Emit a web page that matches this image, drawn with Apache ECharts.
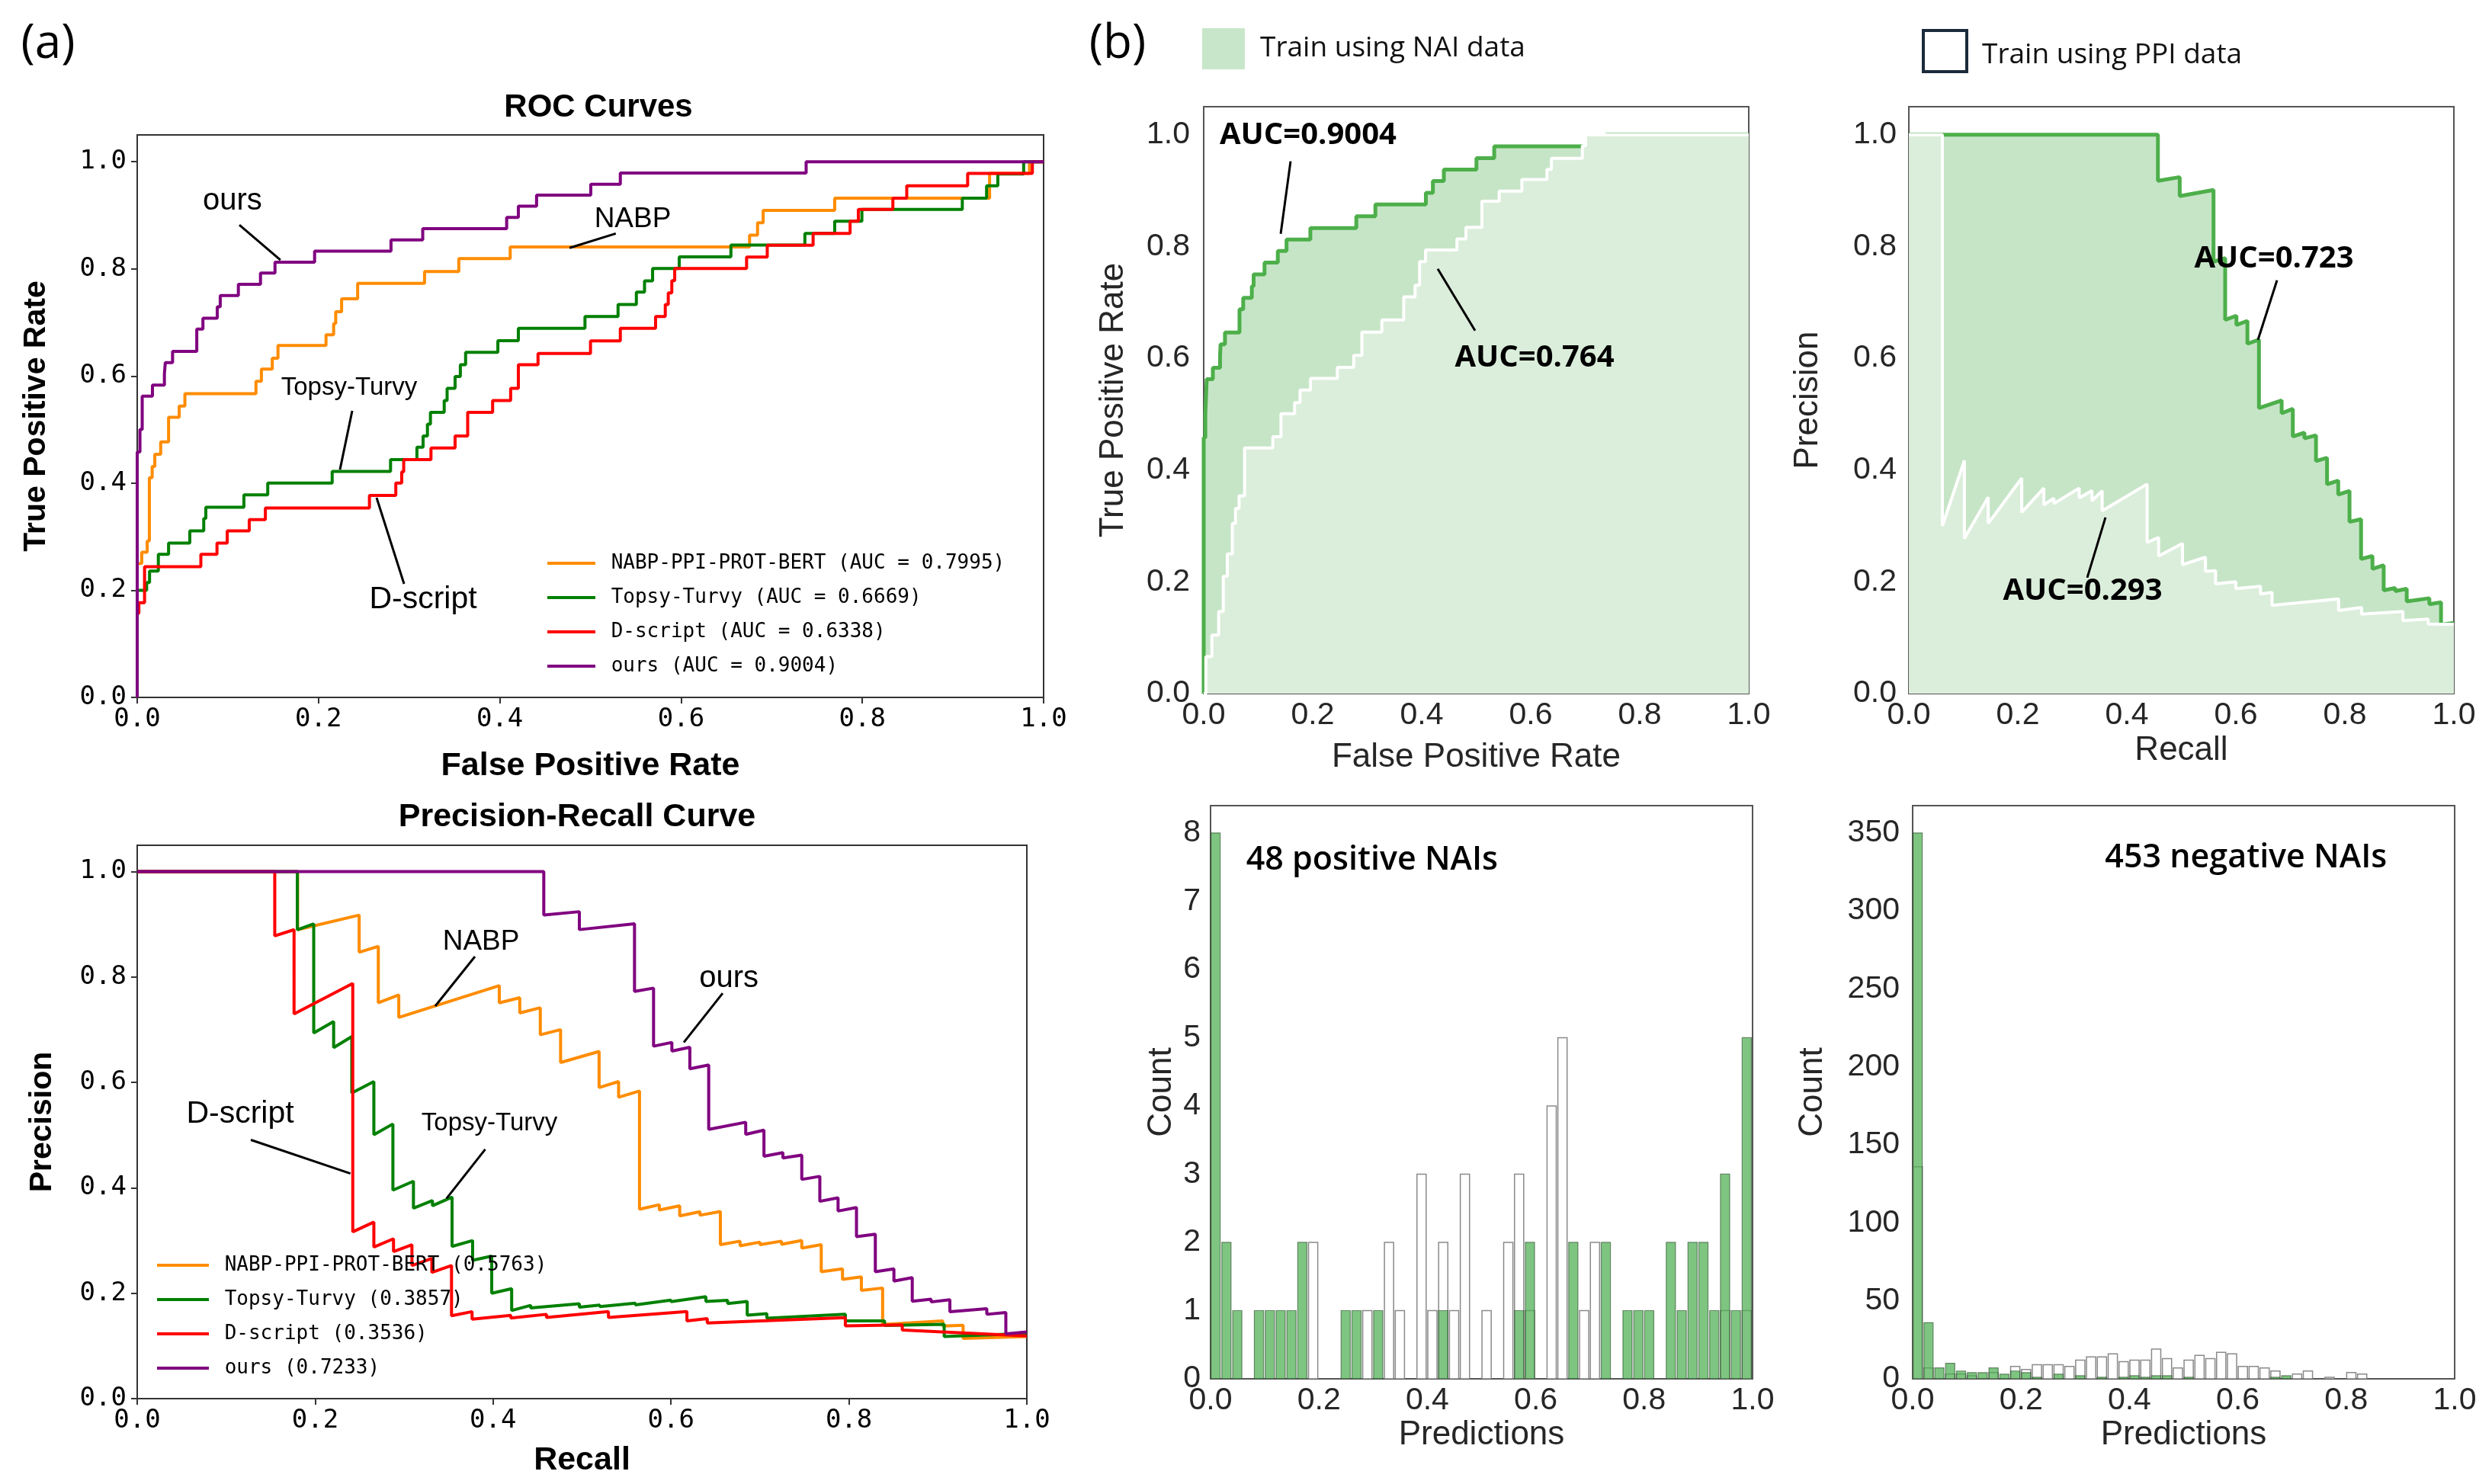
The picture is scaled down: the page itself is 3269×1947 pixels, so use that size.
<!DOCTYPE html>
<html><head><meta charset="utf-8">
<script src="https://cdn.jsdelivr.net/npm/echarts@6/dist/echarts.min.js"></script>
<style>html,body{margin:0;padding:0;background:#fff}#c{width:3269px;height:1947px}</style>
</head><body><div id="c"></div>
<script>
// ---------- DATA ----------
const rocNames = ['NABP-PPI-PROT-BERT (AUC = 0.7995)','Topsy-Turvy (AUC = 0.6669)','D-script (AUC = 0.6338)','ours (AUC = 0.9004)'];
const prNames = ['NABP-PPI-PROT-BERT (0.5763)','Topsy-Turvy (0.3857)','D-script (0.3536)','ours (0.7233)'];
const tickLabels01 = [0,0.2,0.4,0.6,0.8,1.0];
const tickLabelsPos = [0,1,2,3,4,5,6,7,8];
const tickLabelsNeg = [0,50,100,150,200,250,300,350];

// ROC curves: [FPR at jump, TPR after jump]
const rocNABP = [[0,0],[0,0.25],[0.005,0.271],[0.011,0.292],[0.0134,0.41],[0.0165,0.431],[0.0194,0.454],[0.0259,0.477],[0.0346,0.523],[0.0463,0.544],[0.0526,0.567],[0.131,0.59],[0.137,0.613],[0.149,0.633],[0.1553,0.657],[0.2083,0.677],[0.2167,0.698],[0.219,0.72],[0.2255,0.744],[0.2432,0.773],[0.317,0.795],[0.3548,0.819],[0.4115,0.841],[0.6756,0.863],[0.6844,0.886],[0.6906,0.909],[0.7695,0.932],[0.9404,0.978],[0.9844,1.0],[1,1]];
const rocTopsy = [[0,0],[0,0.2],[0.0104,0.2146],[0.0136,0.236],[0.0233,0.267],[0.0346,0.288],[0.058,0.311],[0.0734,0.334],[0.0757,0.355],[0.1177,0.378],[0.144,0.4],[0.2151,0.422],[0.2795,0.444],[0.3086,0.467],[0.3154,0.488],[0.3202,0.51],[0.3235,0.532],[0.3387,0.554],[0.3419,0.577],[0.3507,0.599],[0.3565,0.621],[0.3623,0.644],[0.3979,0.666],[0.4205,0.689],[0.494,0.711],[0.5305,0.7335],[0.5507,0.7565],[0.5597,0.7776],[0.5686,0.8006],[0.598,0.8222],[0.655,0.8444],[0.7366,0.866],[0.7695,0.889],[0.7995,0.911],[0.9103,0.932],[0.9371,0.955],[0.9495,0.977],[0.978,1.0],[1,1]];
const rocDscript = [[0,0],[0,0.157],[0.0018,0.1767],[0.0081,0.244],[0.0702,0.267],[0.088,0.288],[0.0993,0.311],[0.1236,0.332],[0.1414,0.3535],[0.2562,0.377],[0.2853,0.4],[0.2918,0.421],[0.294,0.444],[0.3241,0.4655],[0.3507,0.488],[0.3646,0.532],[0.3921,0.554],[0.412,0.577],[0.4205,0.621],[0.4422,0.642],[0.5001,0.6655],[0.533,0.689],[0.5719,0.711],[0.5826,0.7335],[0.5859,0.755],[0.5898,0.778],[0.593,0.8006],[0.6723,0.822],[0.6951,0.844],[0.7457,0.866],[0.7865,0.889],[0.7956,0.911],[0.8337,0.932],[0.849,0.955],[0.9162,0.978],[0.9876,1.0],[1,1]];
const rocOurs = [[0,0],[0,0.458],[0.003,0.5],[0.0055,0.5625],[0.0168,0.583],[0.030,0.604],[0.031,0.625],[0.039,0.646],[0.0657,0.6875],[0.0725,0.708],[0.0883,0.729],[0.0916,0.75],[0.1116,0.771],[0.136,0.792],[0.152,0.8125],[0.1957,0.833],[0.280,0.854],[0.315,0.875],[0.4076,0.896],[0.4205,0.917],[0.4406,0.9375],[0.5004,0.958],[0.533,0.979],[0.738,1.0],[1,1]];
const rocPPI = [[0,0],[0.004,0.066],[0.015,0.1045],[0.0275,0.147],[0.0359,0.21],[0.0434,0.25],[0.0525,0.3045],[0.0584,0.3315],[0.065,0.354],[0.075,0.4396],[0.1268,0.4595],[0.1418,0.5009],[0.1668,0.5207],[0.1768,0.543],[0.196,0.564],[0.2452,0.5838],[0.2752,0.605],[0.2902,0.6468],[0.3269,0.6685],[0.367,0.7099],[0.3878,0.7306],[0.3962,0.773],[0.407,0.7937],[0.4646,0.8135],[0.4812,0.8342],[0.5104,0.881],[0.5421,0.899],[0.5838,0.9198],[0.6297,0.9378],[0.638,0.9577],[0.6947,0.98],[0.7006,1.0],[1,1]];

// PR curves: [recall, precision]
const prNABP = [[0,1],[0.1803,1],[0.1803,0.8898],[0.2495,0.9175],[0.2495,0.847],[0.271,0.8583],[0.271,0.751],[0.294,0.766],[0.294,0.7233],[0.407,0.7838],[0.407,0.751],[0.430,0.7608],[0.430,0.7319],[0.4531,0.7417],[0.4531,0.6904],[0.4759,0.7002],[0.4759,0.6378],[0.5192,0.6588],[0.5192,0.5903],[0.5411,0.6016],[0.5411,0.5719],[0.5646,0.5838],[0.5646,0.3593],[0.5869,0.3679],[0.5869,0.358],[0.6098,0.366],[0.6098,0.3468],[0.6326,0.3547],[0.6326,0.348],[0.6555,0.355],[0.6555,0.2921],[0.6777,0.2988],[0.6777,0.29],[0.7,0.297],[0.7,0.2921],[0.7242,0.2988],[0.7242,0.293],[0.747,0.30],[0.747,0.2856],[0.7689,0.2921],[0.7689,0.2408],[0.7928,0.2461],[0.7928,0.2263],[0.814,0.2309],[0.814,0.2053],[0.8379,0.2099],[0.8379,0.1408],[0.9055,0.1474],[0.9055,0.1379],[0.9284,0.1392],[0.9284,0.1144],[1,0.1177]];
const prTopsy = [[0,1],[0.18,1],[0.18,0.8898],[0.1984,0.901],[0.1984,0.6937],[0.2208,0.7154],[0.2208,0.666],[0.2412,0.687],[0.2412,0.58],[0.266,0.6016],[0.266,0.5008],[0.2874,0.5212],[0.2874,0.3955],[0.3105,0.4126],[0.3105,0.3613],[0.3319,0.3757],[0.3319,0.366],[0.3539,0.3824],[0.3539,0.2889],[0.377,0.3],[0.377,0.2626],[0.3985,0.2705],[0.3985,0.2],[0.4209,0.2086],[0.4209,0.1672],[0.4423,0.177],[0.4423,0.172],[0.497,0.18],[0.497,0.1737],[0.52,0.1776],[0.52,0.1745],[0.56,0.181],[0.56,0.178],[0.6,0.187],[0.6,0.184],[0.6392,0.1935],[0.6392,0.1843],[0.6637,0.1866],[0.6637,0.1805],[0.6857,0.1843],[0.6857,0.1585],[0.7078,0.1612],[0.7078,0.1527],[0.796,0.16],[0.796,0.1474],[0.8401,0.1474],[0.8401,0.139],[0.9071,0.141],[0.9071,0.1178],[1,0.1236]];
const prDscript = [[0,1],[0.1546,1],[0.1546,0.878],[0.1763,0.8898],[0.1763,0.7299],[0.2423,0.7878],[0.2423,0.3165],[0.266,0.3349],[0.266,0.2876],[0.2881,0.3034],[0.2881,0.279],[0.3088,0.2921],[0.3088,0.2526],[0.3312,0.2658],[0.3312,0.2395],[0.3533,0.2526],[0.3533,0.1572],[0.3764,0.1651],[0.3764,0.1507],[0.42,0.158],[0.42,0.153],[0.46,0.16],[0.46,0.154],[0.5297,0.1651],[0.5297,0.154],[0.6179,0.1651],[0.6179,0.1474],[0.6408,0.1519],[0.6408,0.1436],[0.796,0.1538],[0.796,0.138],[0.86,0.14],[0.86,0.13],[1,0.119]];
const prOurs = [[0,1],[0.457,1],[0.457,0.9175],[0.497,0.924],[0.497,0.89],[0.559,0.901],[0.559,0.7727],[0.5804,0.779],[0.5804,0.6687],[0.601,0.676],[0.601,0.6594],[0.6212,0.6668],[0.6212,0.6259],[0.6424,0.6331],[0.6424,0.5108],[0.684,0.5245],[0.684,0.5015],[0.7045,0.5094],[0.7045,0.46],[0.7258,0.4667],[0.7258,0.4567],[0.747,0.462],[0.747,0.416],[0.7673,0.4218],[0.7673,0.3744],[0.7878,0.381],[0.7878,0.356],[0.8085,0.3626],[0.8085,0.3073],[0.8297,0.3119],[0.8297,0.2408],[0.8506,0.2461],[0.8506,0.223],[0.8712,0.2296],[0.8712,0.1848],[0.8924,0.1888],[0.8924,0.1835],[0.9135,0.1875],[0.9135,0.165],[0.955,0.1706],[0.955,0.16],[0.9764,0.1633],[0.9764,0.123],[1,0.1264]];
const prPPI = [[0,1],[0.0615,1],[0.0615,0.3],[0.1019,0.417],[0.1019,0.2775],[0.1457,0.3514],[0.1457,0.3045],[0.2072,0.3856],[0.2072,0.3243],[0.2477,0.3676],[0.2477,0.3378],[0.2662,0.3495],[0.2662,0.34],[0.3126,0.3676],[0.3126,0.35],[0.336,0.363],[0.336,0.345],[0.3547,0.363],[0.3547,0.327],[0.4372,0.3748],[0.4372,0.2703],[0.4583,0.2793],[0.4583,0.246],[0.5021,0.2685],[0.5021,0.2306],[0.5442,0.2441],[0.5442,0.2189],[0.5628,0.22],[0.5628,0.1964],[0.6,0.2],[0.6,0.188],[0.6453,0.1919],[0.6453,0.1784],[0.6664,0.1811],[0.6664,0.1577],[0.7885,0.1694],[0.7885,0.1486],[0.8307,0.154],[0.8307,0.1423],[0.9065,0.1468],[0.9065,0.1306],[0.9528,0.1333],[0.9528,0.1243],[1,0.124]];

// Histograms: 50 bins of width 0.02 over [0,1]
const histBinWidth = 0.02;
const posNAI = [8,2,1,0,1,1,1,1,2,0, 0,0,1,1,0,1,0,0,0,0, 0,1,0,0,0,0,0,0,1,2, 0,0,0,2,0,0,2,0,1,1, 1,0,2,1,2,2,1,3,1,5];
const posPPI = [0,0,0,0,0,0,0,0,0,2, 0,0,0,0,1,0,2,1,0,3, 1,2,1,3,0,1,0,2,3,1, 0,4,5,0,1,2,0,0,0,0, 0,0,0,0,0,0,0,1,0,1];
const negNAI = [350,36,7,10,5,4,4,7,3,5, 4,1,0,3,0,2,0,1,0,1, 2,1,2,2,0,1,0,0,0,0, 0,0,0,1,2,0,0,0,0,0, 0,0,0,0,0,0,0,0,0,0];
const negPPI = [136,7,0,3,3,2,0,4,0,8, 6,9,9,9,8,12,14,14,16,11, 12,12,19,13,7,12,15,13,17,16, 8,8,7,5,0,3,5,0,1,0, 4,3,0,0,0,0,0,0,0,0];

// ---------- CHART ----------
const chart = echarts.init(document.getElementById('c'), null, {renderer:'canvas', width:3269, height:1947});

const MONO = 'DejaVu Sans Mono';
const SANS = 'Liberation Sans';
const fmt1 = v => (Math.round(v*10)/10).toFixed(1);

function axisA(type, gi, name, gap, max, nameSize) {
  const isY = type === 'y';
  return {
    type:'value', gridIndex:gi, min:0, max:max, interval:0.2,
    name:name, nameLocation:'middle', nameGap:gap,
    nameTextStyle:{fontFamily:SANS, fontWeight:'bold', fontSize:nameSize, color:'#000'},
    axisLine:{show:false}, splitLine:{show:false},
    axisTick:{show:true, inside:false, length:8, lineStyle:{color:'#333', width:2}, customValues: isY ? tickLabels01 : undefined},
    axisLabel:{fontFamily:MONO, fontSize:34, color:'#000', margin: isY ? 14 : 12, formatter:fmt1, customValues: isY ? tickLabels01 : undefined}
  };
}
function axisB(type, gi, name, gap, max, interval, ticks, formatter, margin) {
  return {
    type:'value', gridIndex:gi, min:0, max:max, interval:interval,
    name:name, nameLocation:'middle', nameGap:gap,
    nameTextStyle:{fontFamily:SANS, fontSize:44, color:'#262626'},
    axisLine:{show:false}, splitLine:{show:false}, axisTick:{show:false, customValues:ticks},
    axisLabel:{fontFamily:SANS, fontSize:41, color:'#262626', margin:margin, formatter:formatter, customValues:ticks}
  };
}

const gridA = {show:true, borderColor:'#333', borderWidth:2, backgroundColor:'transparent'};
const gridB = {show:true, borderColor:'#555', borderWidth:2, backgroundColor:'transparent'};

const colA = ['#ff8c00','#008000','#ff0000','#800080'];
function lineA(name, data, gi, color, step) {
  return {type:'line', name:name, xAxisIndex:gi, yAxisIndex:gi, data:data, step:step, symbol:'none',
    lineStyle:{color:color, width:4}, itemStyle:{color:color}, clip:true, silent:true};
}
function lineB(data, gi, color, width, area, step, z) {
  return {type:'line', xAxisIndex:gi, yAxisIndex:gi, data:data, step:step, symbol:'none', z:z,
    lineStyle:{color:color, width:width}, areaStyle:{color:area, opacity:1}, clip:true, silent:true};
}
function histSeries(counts, gi, fill, stroke, lw, z) {
  const data = counts.map((c,i) => [i*histBinWidth + 0.0008, i*histBinWidth + 0.0178, c]).filter(d => d[2] > 0);
  return {type:'custom', xAxisIndex:gi, yAxisIndex:gi, data:data, encode:{x:[0,1], y:2}, z:z, silent:true, clip:true,
    renderItem:function(params, api){
      const a = api.coord([api.value(0), api.value(2)]);
      const b = api.coord([api.value(1), 0]);
      return {type:'rect', shape:{x:a[0], y:a[1], width:b[0]-a[0], height:b[1]-a[1]},
        style:{fill:fill, stroke:stroke, lineWidth:lw}};
    }};
}

const MED = '#c6e5c7', LIGHT = '#dbeedb', GREEN = '#4daf4a';
const legendText = {fontFamily:MONO, fontSize:26, lineHeight:30, color:'#000'};

const option = {
  animation:false,
  backgroundColor:'#fff',
  grid:[
    Object.assign({left:180, top:177, width:1189, height:738}, gridA),
    Object.assign({left:180, top:1109, width:1167, height:726}, gridA),
    Object.assign({left:1579, top:140, width:715, height:770}, gridB),
    Object.assign({left:2504, top:140, width:715, height:770}, gridB),
    Object.assign({left:1588, top:1057, width:711, height:752}, gridB),
    Object.assign({left:2509, top:1057, width:711, height:752}, gridB)
  ],
  xAxis:[
    axisA('x',0,'False Positive Rate',69,1,43),
    axisA('x',1,'Recall',60,1,43),
    axisB('x',2,'False Positive Rate',62,1,0.2,undefined,fmt1,8),
    axisB('x',3,'Recall',53,1,0.2,undefined,fmt1,8),
    axisB('x',4,'Predictions',52,1,0.2,undefined,fmt1,8),
    axisB('x',5,'Predictions',52,1,0.2,undefined,fmt1,8)
  ],
  yAxis:[
    axisA('y',0,'True Positive Rate',112,1.05,41),
    axisA('y',1,'Precision',104,1.05,41),
    axisB('y',2,'True Positive Rate',96,1.05,0.2,tickLabels01,fmt1,18),
    axisB('y',3,'Precision',110,1.05,0.2,tickLabels01,fmt1,16),
    axisB('y',4,'Count',42,8.4,1,tickLabelsPos,v=>String(v),13),
    axisB('y',5,'Count',109,367.5,50,tickLabelsNeg,v=>String(v),17)
  ],
  legend:[
    {data:rocNames, orient:'vertical', left:718, top:724, icon:'rect', itemWidth:63, itemHeight:4, itemGap:15, padding:0,
     selectedMode:false, formatter:n=>' '+n, textStyle:legendText},
    {data:prNames, orient:'vertical', left:206, top:1645, icon:'rect', itemWidth:68, itemHeight:4, itemGap:15, padding:0,
     selectedMode:false, formatter:n=>' '+n, textStyle:legendText}
  ],
  series:[
    lineA(rocNames[0], rocNABP, 0, colA[0], 'end'),
    lineA(rocNames[1], rocTopsy, 0, colA[1], 'end'),
    lineA(rocNames[2], rocDscript, 0, colA[2], 'end'),
    lineA(rocNames[3], rocOurs, 0, colA[3], 'end'),
    lineA(prNames[0], prNABP, 1, colA[0], false),
    lineA(prNames[1], prTopsy, 1, colA[1], false),
    lineA(prNames[2], prDscript, 1, colA[2], false),
    lineA(prNames[3], prOurs, 1, colA[3], false),
    lineB(rocOurs, 2, GREEN, 5, MED, 'end', 2),
    lineB(rocPPI, 2, '#ffffff', 4, LIGHT, 'end', 3),
    lineB(prOurs, 3, GREEN, 5, MED, false, 2),
    lineB(prPPI, 3, '#ffffff', 4, LIGHT, false, 3),
    histSeries(posPPI, 4, '#ffffff', '#8a8a8a', 1.5, 2),
    histSeries(posNAI, 4, 'rgba(76,175,80,0.72)', 'rgba(30,60,30,0.55)', 1.2, 3),
    histSeries(negPPI, 5, '#ffffff', '#8a8a8a', 1.5, 2),
    histSeries(negNAI, 5, 'rgba(76,175,80,0.72)', 'rgba(30,60,30,0.55)', 1.2, 3)
  ]
};
chart.setOption(option);

// ---------- ANNOTATIONS (anchored in data coordinates) ----------
const annotations = [
  {g:0, text:'ours', at:[0.105,0.926], from:[0.1127,0.882], to:[0.158,0.8165], size:40},
  {g:0, text:'NABP', at:[0.5467,0.8926], from:[0.528,0.866], to:[0.477,0.839], size:37},
  {g:0, text:'Topsy-Turvy', at:[0.2338,0.5775], from:[0.2372,0.535], to:[0.2237,0.4253], size:33},
  {g:0, text:'D-script', at:[0.3154,0.182], from:[0.2944,0.212], to:[0.2641,0.3727], size:41},
  {g:1, text:'NABP', at:[0.3865,0.8668], from:[0.3796,0.8388], to:[0.335,0.7448], size:37},
  {g:1, text:'D-script', at:[0.1157,0.5394], from:[0.1277,0.491], to:[0.2396,0.4272], size:41},
  {g:1, text:'Topsy-Turvy', at:[0.3959,0.5226], from:[0.3912,0.4732], to:[0.3477,0.3798], size:33},
  {g:1, text:'ours', at:[0.665,0.7971], from:[0.6581,0.7693], to:[0.6144,0.6759], size:40},
  {g:2, text:'AUC=0.9004', at:[0.1916,0.9986], from:[0.1594,0.9523], to:[0.1413,0.8226], size:40, bold:true},
  {g:2, text:'AUC=0.764', at:[0.607,0.6003], from:[0.4294,0.7599], to:[0.4979,0.6494], size:40, bold:true},
  {g:3, text:'AUC=0.723', at:[0.67,0.7776], from:[0.6755,0.7394], to:[0.6406,0.633], size:40, bold:true},
  {g:3, text:'AUC=0.293', at:[0.3189,0.1828], from:[0.3608,0.3151], to:[0.3273,0.2074], size:40, bold:true}
];
const graphics = [];
annotations.forEach(a => {
  const p = chart.convertToPixel({gridIndex:a.g}, a.at);
  const f = chart.convertToPixel({gridIndex:a.g}, a.from);
  const t = chart.convertToPixel({gridIndex:a.g}, a.to);
  graphics.push({type:'line', z:50, shape:{x1:f[0], y1:f[1], x2:t[0], y2:t[1]}, style:{stroke:'#000', lineWidth:3}});
  graphics.push({type:'text', z:51, x:p[0], y:p[1], style:{text:a.text, fontFamily: a.bold ? 'Open Sans' : SANS,
    fontWeight: a.bold ? 'bold' : 'normal', fontSize:a.size, fill:'#000', align:'center', verticalAlign:'middle'}});
});
const histNotes = [
  {g:4, text:'48 positive NAIs', at:[0.298,7.6]},
  {g:5, text:'453 negative NAIs', at:[0.615,334]}
];
histNotes.forEach(h => {
  const p = chart.convertToPixel({gridIndex:h.g}, h.at);
  graphics.push({type:'text', z:51, x:p[0], y:p[1], style:{text:h.text, fontFamily:'Open Sans', fontWeight:600,
    fontSize:43, fill:'#000', align:'center', verticalAlign:'middle'}});
});
// titles, panel tags, legends of panel (b)
graphics.push(
  {type:'text', x:785, y:141, style:{text:'ROC Curves', fontFamily:SANS, fontWeight:'bold', fontSize:42, fill:'#000', align:'center', verticalAlign:'middle'}},
  {type:'text', x:757, y:1072, style:{text:'Precision-Recall Curve', fontFamily:SANS, fontWeight:'bold', fontSize:43, fill:'#000', align:'center', verticalAlign:'middle'}},
  {type:'text', x:63, y:58, style:{text:'(a)', fontFamily:'Open Sans', fontSize:62, fill:'#000', align:'center', verticalAlign:'middle'}},
  {type:'text', x:1466, y:58, style:{text:'(b)', fontFamily:'Open Sans', fontSize:62, fill:'#000', align:'center', verticalAlign:'middle'}},
  {type:'rect', shape:{x:1577, y:37, width:56, height:54}, style:{fill:'#c8e6c9'}},
  {type:'text', x:1653, y:63, style:{text:'Train using NAI data', fontFamily:'Open Sans', fontSize:37, fill:'#111', align:'left', verticalAlign:'middle'}},
  {type:'rect', shape:{x:2523, y:40, width:57, height:54}, style:{fill:'#fff', stroke:'#1b2b3b', lineWidth:4}},
  {type:'text', x:2600, y:72, style:{text:'Train using PPI data', fontFamily:'Open Sans', fontSize:37, fill:'#111', align:'left', verticalAlign:'middle'}}
);
chart.setOption({graphic:graphics});
</script></body></html>
